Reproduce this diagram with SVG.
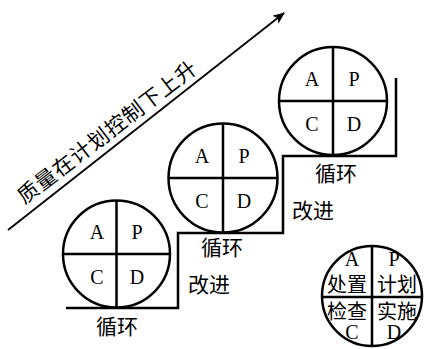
<svg xmlns="http://www.w3.org/2000/svg" width="426" height="349" viewBox="0 0 426 349">
<defs>
<style>
.ln{fill:none;stroke:#000;stroke-width:2.5}
.lt{font-family:"Liberation Serif",serif;font-size:20px;fill:#000;text-anchor:middle}
.cj{font-family:"Noto Sans CJK SC",sans-serif;font-size:21px;fill:#000;text-anchor:middle;dominant-baseline:central}
.lg{font-family:"Noto Sans CJK SC",sans-serif;font-size:20px;fill:#000;text-anchor:middle;dominant-baseline:central}
</style>
<marker id="ah" viewBox="0 0 12 10" refX="11" refY="5" markerWidth="13" markerHeight="10" markerUnits="userSpaceOnUse" orient="auto">
<path d="M0,0 L12,5 L0,10 L3,5 Z" fill="#000"/>
</marker>
</defs>
<rect width="426" height="349" fill="#fff"/>
<g id="connectors">
<line x1="8" y1="230" x2="284" y2="13" stroke="#000" stroke-width="1.8" marker-end="url(#ah)"/>
<polyline class="ln" points="66,308 178,308 178,233 283,233 283,156 396,156 396,78"/>
</g>
<g id="rise-label">
<text class="cj" transform="translate(106,131) rotate(-37.5)" letter-spacing="1" dx="0.5">质量在计划控制下上升</text>
</g>
<g id="cycle1">
<circle class="ln" cx="116.5" cy="254" r="53.5"/>
<line class="ln" x1="116.5" y1="200.5" x2="116.5" y2="307.5"/>
<line class="ln" x1="63" y1="254" x2="170" y2="254"/>
<text class="lt" x="97" y="239">A</text>
<text class="lt" x="137" y="239">P</text>
<text class="lt" x="97" y="284">C</text>
<text class="lt" x="137" y="284">D</text>
<text class="cj" x="117" y="325">循环</text>
</g>
<g id="improve1"><text class="cj" x="209" y="283">改进</text></g>
<g id="cycle2">
<circle class="ln" cx="223" cy="178" r="54.5"/>
<line class="ln" x1="223" y1="123.5" x2="223" y2="232.5"/>
<line class="ln" x1="168.5" y1="178" x2="277.5" y2="178"/>
<text class="lt" x="202" y="163">A</text>
<text class="lt" x="244" y="163">P</text>
<text class="lt" x="202" y="208">C</text>
<text class="lt" x="244" y="208">D</text>
<text class="cj" x="222" y="246">循环</text>
</g>
<g id="improve2"><text class="cj" x="313" y="209">改进</text></g>
<g id="cycle3">
<circle class="ln" cx="333" cy="101" r="54"/>
<line class="ln" x1="333" y1="47" x2="333" y2="155"/>
<line class="ln" x1="279" y1="101" x2="387" y2="101"/>
<text class="lt" x="312" y="86">A</text>
<text class="lt" x="354" y="86">P</text>
<text class="lt" x="312" y="131">C</text>
<text class="lt" x="354" y="131">D</text>
<text class="cj" x="336" y="172">循环</text>
</g>
<g id="legend">
<circle class="ln" cx="372" cy="296" r="50"/>
<line class="ln" x1="372" y1="246" x2="372" y2="346"/>
<line class="ln" x1="322" y1="297" x2="422" y2="297"/>
<text class="lt" x="352" y="266">A</text>
<text class="lt" x="394" y="266">P</text>
<text class="lg" x="347" y="283">处置</text>
<text class="lg" x="397" y="283">计划</text>
<text class="lg" x="347" y="310">检查</text>
<text class="lg" x="397" y="310">实施</text>
<text class="lt" x="352" y="339">C</text>
<text class="lt" x="394" y="339">D</text>
</g>
</svg>
